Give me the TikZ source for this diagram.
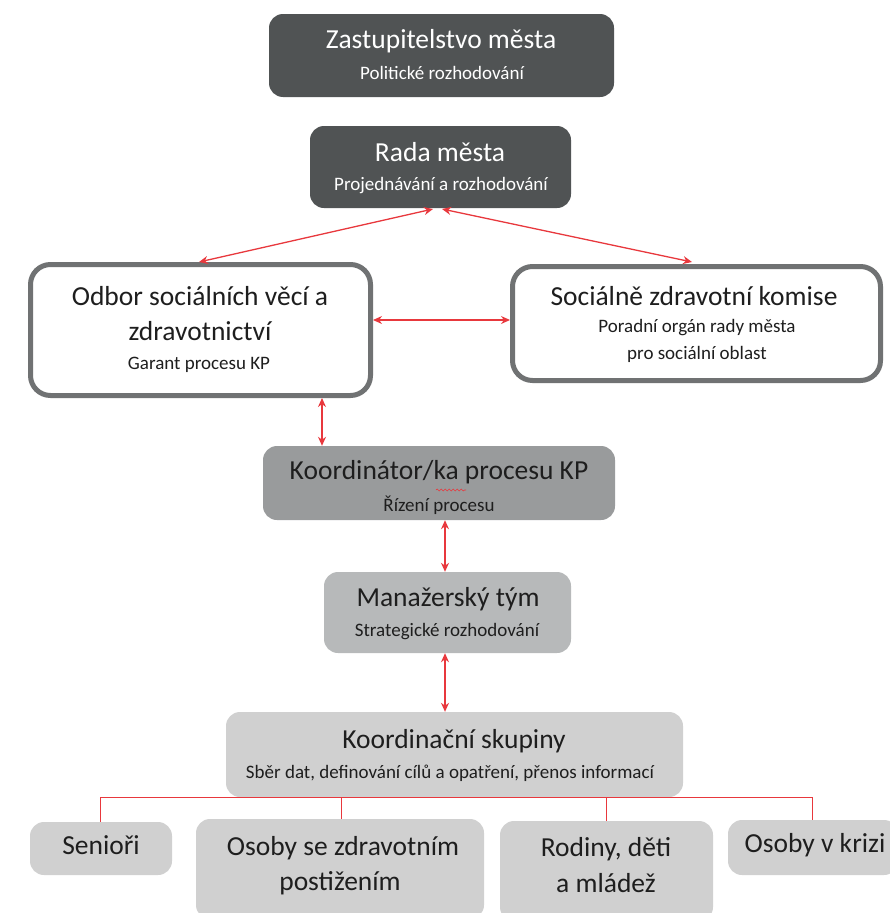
\documentclass[tikz,border=0pt]{standalone}
\usepackage{fontspec}
\setmainfont{Carlito}
\usetikzlibrary{arrows.meta,decorations.pathmorphing}
\definecolor{darkbox}{RGB}{80,83,84}
\definecolor{midbox}{RGB}{153,155,156}
\definecolor{lightbox}{RGB}{183,185,186}
\definecolor{palebox}{RGB}{208,208,208}
\definecolor{frame}{RGB}{112,114,115}
\definecolor{linkred}{RGB}{232,56,61}
\definecolor{darktext}{RGB}{30,30,30}
\tikzset{
  box/.style={rectangle, rounded corners=14pt, inner sep=0pt, draw=none},
  darkb/.style={box, fill=darkbox},
  midb/.style={box, fill=midbox},
  lightb/.style={box, fill=lightbox},
  paleb/.style={box, fill=palebox},
  whiteb/.style={box, fill=white, draw=frame, line width=5pt, rounded corners=20pt},
  title/.style={inner sep=0pt, font=\fontsize{27.5}{32}\selectfont, text=darktext},
  sub/.style={inner sep=0pt, font=\fontsize{19}{22}\selectfont, text=darktext},
  link/.style={draw=linkred, line width=1.3pt, {Stealth[length=9pt,width=8pt]}-{Stealth[length=9pt,width=8pt]}},
  tree/.style={draw=linkred, line width=0.9pt}
}
\begin{document}
\begin{tikzpicture}[x=1pt,y=-1pt]
\useasboundingbox (0,0) rectangle (890,913);
% boxes
\node[darkb, minimum width=345pt, minimum height=83pt] (zast) at (441.5,55.5) {};
\node[darkb, minimum width=261pt, minimum height=82pt] (rada) at (440.5,167) {};
\node[whiteb, minimum width=340pt, minimum height=131pt] (odbor) at (200.5,330) {};
\node[whiteb, minimum width=368pt, minimum height=114pt] (komise) at (696.5,323.5) {};
\node[midb, minimum width=352pt, minimum height=74pt] (koord) at (439,483) {};
\node[lightb, minimum width=247pt, minimum height=81pt] (man) at (447.5,612.5) {};
\node[paleb, minimum width=457pt, minimum height=85pt] (skup) at (454.5,754.5) {};
\node[paleb, minimum width=142pt, minimum height=53pt] (sen) at (101,848.5) {};
\node[paleb, minimum width=288pt, minimum height=100pt] (ozp) at (340,869) {};
\node[paleb, minimum width=213pt, minimum height=100pt] (rod) at (606.5,871) {};
\node[paleb, minimum width=170pt, minimum height=55pt] (krize) at (813,847.5) {};
% texts
\node[title, text=white] (zastT) at (441,41) {Zastupitelstvo města};
\node[sub, text=white] (zastS) at (442,73) {Politické rozhodování};
\node[title, text=white] (radaT) at (440,152) {Rada města};
\node[sub, text=white] (radaS) at (441,186) {Projednávání a rozhodování};
\node[title] (odborT1) at (200,296) {Odbor sociálních věcí a};
\node[title] (odborT2) at (200,331) {zdravotnictví};
\node[sub] (odborS) at (199,365) {Garant procesu KP};
\node[title] (komT) at (694,296) {Sociálně zdravotní komise};
\node[sub] (komS1) at (697,328) {Poradní orgán rady města};
\node[sub] (komS2) at (697,354) {pro sociální oblast};
\node[title] (koordT) at (439,472) {Koordinátor/ka procesu KP};
\node[sub] (koordS) at (439,505) {Řízení procesu};
\node[title] (manT) at (448,599) {Manažerský tým};
\node[sub] (manS) at (447,632) {Strategické rozhodování};
\node[title] (skupT) at (454,741) {Koordinační skupiny};
\node[sub] (skupS) at (450,773) {Sběr dat, definování cílů a opatření, přenos informací};
\node[title] (senT) at (101,845) {Senioři};
\node[title] (ozpT1) at (343,848) {Osoby se zdravotním};
\node[title] (ozpT2) at (340,883) {postižením};
\node[title] (rodT1) at (606,849) {Rodiny, děti};
\node[title] (rodT2) at (606,883) {a mládež};
\node[title] (krizeT) at (815,845) {Osoby v krizi};
% spell-check squiggle
\coordinate (sq1) at (436,490);
\coordinate (sq2) at (466,490);
\draw[linkred, line width=0.6pt, decorate, decoration={snake, amplitude=1pt, segment length=4pt}] (sq1) -- (sq2);
% connectors
\coordinate (radaL) at (433,209);
\coordinate (radaR) at (442,209);
\coordinate (odborTop) at (199,262);
\coordinate (komTop) at (692,262);
\draw[link] (radaL) -- (odborTop);
\draw[link] (radaR) -- (komTop);
\draw[link] (odbor.east |- 0,320) -- (komise.west |- 0,320);
\draw[link] (odbor.south -| 322,0) -- (koord.north -| 322,0);
\draw[link] (koord.south -| 445,0) -- (man.north -| 445,0);
\draw[link] (man.south -| 445,0) -- (skup.north -| 445,0);
% tree
\coordinate (tl) at (100,797);
\coordinate (tr) at (812,797);
\draw[tree] (tl) -- (tr);
\draw[tree] (tl) -- (sen.north -| tl);
\draw[tree] (341,797) -- (ozp.north -| 341,0);
\draw[tree] (606,797) -- (rod.north -| 606,0);
\draw[tree] (tr) -- (krize.north -| tr);
\end{tikzpicture}
\end{document}
